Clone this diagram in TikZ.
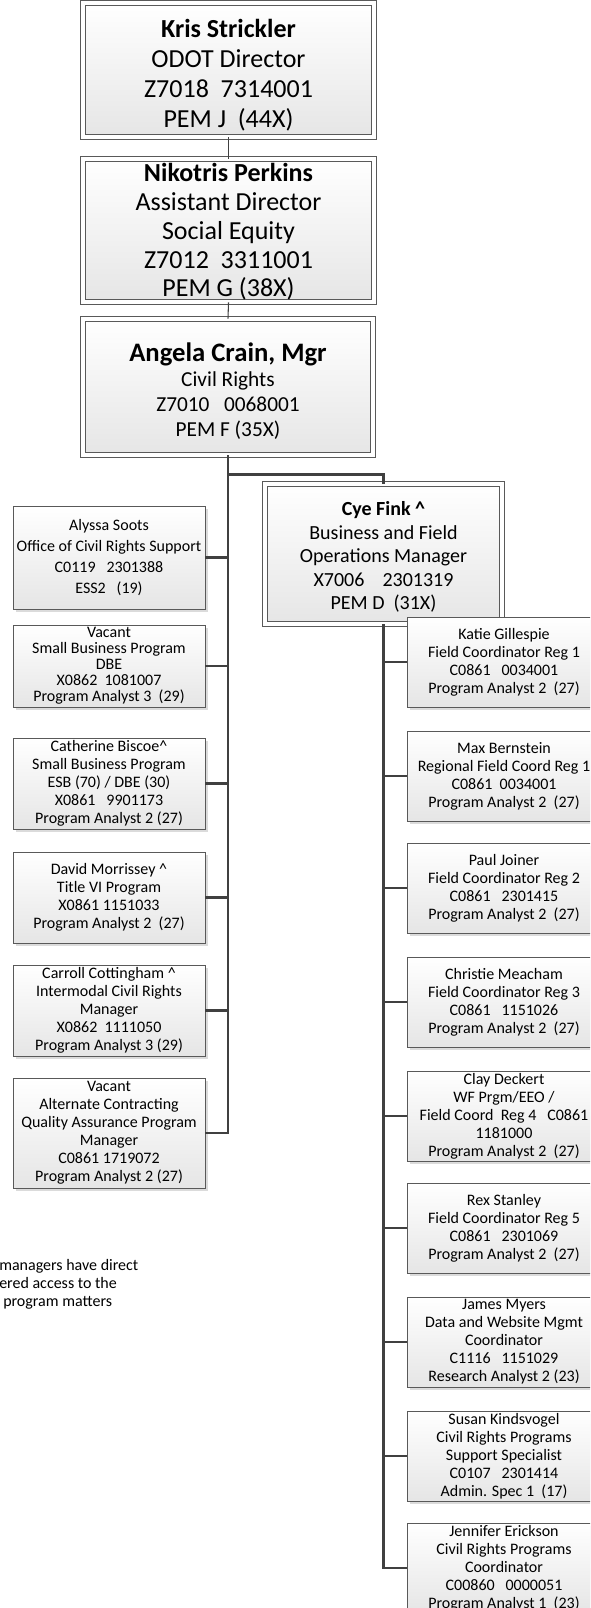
\documentclass[tikz,border=0pt]{standalone}
\usepackage{fontspec}
\setmainfont{Carlito}
\usetikzlibrary{shadows}
\newcommand{\toppad}[1]{\rule{0pt}{#1}}

\begin{document}
\begin{tikzpicture}[x=0.75pt,y=-0.75pt]
	\tikzstyle {chart box} = [draw=black!65, line width=0.6pt, top color=white, bottom color=black!10, align=center, inner sep=0pt, drop shadow={shadow xshift=2.5pt, shadow yshift=-2.5pt, fill=black!28}]
	\tikzstyle {head box} = [chart box, double=white, double distance=3.5pt]
	\tikzstyle {staff box} = [chart box, minimum width=144pt, font=\fontsize{12}{13.5}\selectfont]
	\tikzstyle {field box} = [chart box, minimum width=145.5pt, minimum height=67.5pt, font=\fontsize{12}{13.5}\selectfont]
	\tikzstyle {thin link} = [draw=black!75, line width=0.8pt]
	\tikzstyle {trunk link} = [draw=black!75, line width=2.2pt]

	\useasboundingbox (0,0) rectangle (590,1608);
	\clip (0,0) rectangle (590,1608);

	\node[head box, minimum width=218.25pt, minimum height=100.5pt, font=\fontsize{19.5}{22.5}\selectfont] (director) at (228.5,70)
		{\toppad{21.4pt}\textbf{Kris Strickler}\\ODOT Director\\Z7018~~7314001\\PEM J~~(44X)};
	\node[head box, minimum width=218.25pt, minimum height=107.25pt, font=\fontsize{19.5}{21.6}\selectfont] (assistant) at (228.5,230.5)
		{\toppad{16pt}\textbf{Nikotris Perkins}\\Assistant Director\\Social Equity\\Z7012~~3311001\\PEM G (38X)};
	\node[head box, minimum width=217.5pt, minimum height=102pt, font=\fontsize{16}{18.75}\selectfont] (manager) at (228,387)
		{\toppad{19.5pt}{\fontsize{20}{20}\selectfont\bfseries Angela Crain, Mgr}\\Civil Rights\\Z7010~~~0068001\\PEM F (35X)};
	\node[head box, minimum width=177.75pt, minimum height=105pt, font=\fontsize{15}{17.6}\selectfont] (fieldmgr) at (383.5,554)
		{\toppad{15.2pt}\textbf{Cye Fink \textasciicircum}\\Business and Field\\Operations Manager\\X7006~~~~2301319\\PEM D~~(31X)};

	\node[staff box, minimum height=77.25pt, font=\fontsize{12}{15.75}\selectfont] (soots) at (109,557.5)
		{Alyssa Soots\\Office of Civil Rights Support\\C0119~~~2301388\\ESS2~~~(19)};
	\node[staff box, minimum height=61.5pt, font=\fontsize{12}{12}\selectfont] (dbe) at (109,666)
		{Vacant\\Small Business Program\\DBE\\X0862~~1081007\\Program Analyst 3~~(29)};
	\node[staff box, minimum height=68.25pt] (biscoe) at (109,783.5)
		{Catherine Biscoe\textasciicircum\\Small Business Program\\ESB (70) / DBE (30)\\X0861~~~9901173\\Program Analyst 2 (27)};
	\node[staff box, minimum height=68.25pt] (morrissey) at (109,897.5)
		{David Morrissey \textasciicircum\\Title VI Program\\X0861 1151033\\Program Analyst 2~~(27)};
	\node[staff box, minimum height=68.25pt] (cottingham) at (109,1010.5)
		{Carroll Cottingham \textasciicircum\\Intermodal Civil Rights\\Manager\\X0862~~1111050\\Program Analyst 3 (29)};
	\node[staff box, minimum height=82.5pt] (qaprog) at (109,1133)
		{Vacant\\Alternate Contracting\\Quality Assurance Program\\Manager\\C0861 1719072\\Program Analyst 2 (27)};

	\node[field box] (gillespie) at (504,662)
		{Katie Gillespie\\Field Coordinator Reg 1\\C0861~~~0034001\\Program Analyst 2~~(27)};
	\node[field box] (bernstein) at (504,776)
		{Max Bernstein\\Regional Field Coord Reg 1\\C0861~~0034001\\Program Analyst 2~~(27)};
	\node[field box] (joiner) at (504,888)
		{Paul Joiner\\Field Coordinator Reg 2\\C0861~~~2301415\\Program Analyst 2~~(27)};
	\node[field box] (meacham) at (504,1002)
		{Christie Meacham\\Field Coordinator Reg 3\\C0861~~~1151026\\Program Analyst 2~~(27)};
	\node[field box] (deckert) at (504,1116)
		{Clay Deckert\\WF Prgm/EEO /\\Field Coord~~Reg 4~~~C0861\\1181000\\Program Analyst 2~~(27)};
	\node[field box] (stanley) at (504,1228)
		{Rex Stanley\\Field Coordinator Reg 5\\C0861~~~2301069\\Program Analyst 2~~(27)};
	\node[field box] (myers) at (504,1342)
		{James Myers\\Data and Website Mgmt\\Coordinator\\C1116~~~1151029\\Research Analyst 2 (23)};
	\node[field box] (kindsvogel) at (504,1456)
		{Susan Kindsvogel\\Civil Rights Programs\\Support Specialist\\C0107~~~2301414\\Admin. Spec 1~~(17)};
	\node[field box] (erickson) at (504,1568)
		{Jennifer Erickson\\Civil Rights Programs\\Coordinator\\C00860~~~0000051\\Program Analyst 1~~(23)};

	\node[anchor=north west, align=left, inner sep=0pt, font=\fontsize{12}{13.5}\selectfont] (note) at (-1,1259)
		{managers have direct\\ered access to the\\\hspace{3pt}program matters};

	\draw[thin link] (director.south) -- (assistant.north);
	\draw[thin link] (assistant.south) -- (manager.north);

	\path (manager.south) ++(0,19) coordinate (split);
	\draw[trunk link] (manager.south) |- (qaprog.east);
	\draw[trunk link] (split) -| (fieldmgr.north);
	\foreach \who in {soots, dbe, biscoe, morrissey, cottingham}
		\draw[trunk link] (\who.east) -- (\who.east -| manager.south);

	\draw[trunk link] (fieldmgr.south) |- (erickson.west);
	\foreach \who in {gillespie, bernstein, joiner, meacham, deckert, stanley, myers, kindsvogel}
		\draw[trunk link] (\who.west) -- (\who.west -| fieldmgr.south);
\end{tikzpicture}
\end{document}
